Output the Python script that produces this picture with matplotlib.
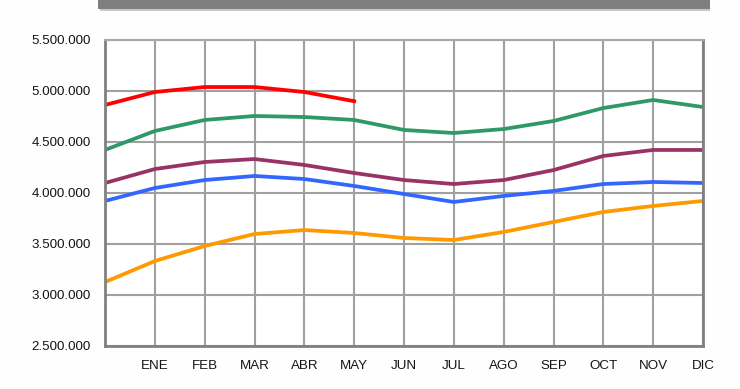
import numpy as np
import matplotlib
matplotlib.use('Agg')
import matplotlib.pyplot as plt
from matplotlib.patches import Rectangle
from matplotlib.ticker import FuncFormatter

meses = ['', 'ENE', 'FEB', 'MAR', 'ABR', 'MAY', 'JUN', 'JUL', 'AGO', 'SEP', 'OCT', 'NOV', 'DIC']

serie_roja = [4863000, 4990000, 5039000, 5039000, 4990000, 4900000]
serie_verde = [4422000, 4608000, 4716000, 4755000, 4745000, 4716000, 4618000,
               4588000, 4627000, 4706000, 4833000, 4912000, 4843000]
serie_morada = [4098000, 4235000, 4304000, 4333000, 4275000, 4196000, 4127000,
                4088000, 4127000, 4225000, 4363000, 4422000, 4422000]
serie_azul = [3922000, 4049000, 4127000, 4167000, 4137000, 4069000, 3990000,
              3912000, 3971000, 4020000, 4088000, 4108000, 4098000]
serie_naranja = [3127000, 3333000, 3480000, 3598000, 3637000, 3608000, 3559000,
                 3539000, 3618000, 3716000, 3814000, 3873000, 3922000]

plt.rcParams['font.family'] = ['Liberation Sans', 'DejaVu Sans']

fig = plt.figure(figsize=(7.4, 3.89), dpi=100)
fig.patch.set_facecolor('#fdfefd')
ax = fig.add_axes([105/740, 1 - 346/389, 598/740, 306/389])
ax.set_facecolor('white')

# barra gris recortada arriba
fig.patches.append(Rectangle((98/740, 1 - 9/389), 612/740, 9/389,
                             transform=fig.transFigure, facecolor='#7f7f7f',
                             edgecolor='none'))
fig.patches.append(Rectangle((100/740, 1 - 11/389), 610/740, 2/389,
                             transform=fig.transFigure, facecolor='#c8c8c8',
                             edgecolor='none'))

lw = 2.7
ax.plot(range(len(serie_naranja)), serie_naranja, color='#ff9900', lw=lw)
ax.plot(range(len(serie_azul)), serie_azul, color='#3366ff', lw=lw)
ax.plot(range(len(serie_morada)), serie_morada, color='#993366', lw=lw)
ax.plot(range(len(serie_verde)), serie_verde, color='#2e9966', lw=lw)
ax.plot(range(len(serie_roja)), serie_roja, color='#ff0000', lw=lw)

ax.set_xlim(0, 12)
ax.set_ylim(2500000, 5500000)
ax.set_xticks(range(13))
ax.set_xticklabels(meses)
ax.set_yticks(np.arange(2500000, 5500001, 500000))
ax.yaxis.set_major_formatter(FuncFormatter(lambda v, p: f'{int(v):,}'.replace(',', '.')))

ax.grid(True, color='#a0a0a0', lw=1.5)
ax.set_axisbelow(True)
ax.tick_params(length=0, labelsize=9.6, colors='#141414')
ax.tick_params(axis='y', pad=10)
ax.tick_params(axis='x', pad=10)
for s in ['top']:
    ax.spines[s].set_color('#a8a8a8')
    ax.spines[s].set_linewidth(1.5)
for s in ['left', 'right', 'bottom']:
    ax.spines[s].set_color('#808080')
    ax.spines[s].set_linewidth(2)

plt.savefig('out.png', dpi=100, facecolor=fig.get_facecolor())
